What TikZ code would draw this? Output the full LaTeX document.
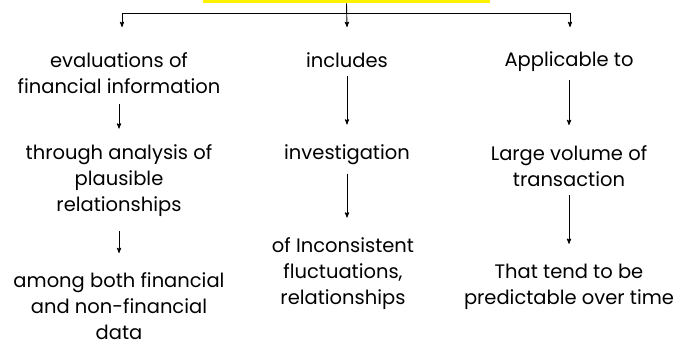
\documentclass[tikz,border=0pt]{standalone}
\usepackage{fontspec}
\setmainfont{Poppins}
\usepackage{tikz}
\usetikzlibrary{arrows}

\begin{document}
\begin{tikzpicture}[x=1pt,y=-1pt,->,>=stealth',line width=0.9pt]
    \tikzset{every node/.style={align=center,inner sep=0pt,font=\fontsize{19.5}{26}\selectfont}}
    \useasboundingbox (0,0) rectangle (686,346);
    \node[fill=yellow,minimum width=287pt,minimum height=20pt] (top) at (346.5,-7) {};
    % first column
    \node (a1) at (119,73) {evaluations of\\financial information};
    \node (a2) [below of=a1,node distance=108pt] {through analysis of\\plausible\\relationships};
    \node (a3) [below of=a2,node distance=125pt] {among both financial\\and non-financial\\data};
    % second column
    \node (b1) at (347,60) {includes};
    \node (b2) [below of=b1,node distance=95pt] {investigation};
    \node (b3) [below of=b2,node distance=119pt,xshift=-4pt] {of Inconsistent\\fluctuations,\\relationships};
    % third column
    \node (c1) at (569,62) {Applicable to};
    \node (c2) [below of=c1,node distance=104pt] {Large volume of\\transaction};
    \node (c3) [below of=c2,node distance=121pt] {That tend to be\\predictable over time};
    \coordinate (bus) at (347,13);
    \coordinate (t1) at (122,27);
    \coordinate (t2) at (347,27);
    \coordinate (t3) at (570,27);
    \draw (top.south) -- (t2);
    \draw (bus) -| (t1);
    \draw (bus) -| (t3);
    \draw[shorten <=10pt,shorten >=16pt] (a1) -- (a2);
    \draw[shorten <=14pt,shorten >=19pt] (a2) -- (a3);
    \draw[shorten <=8pt,shorten >=20pt] (b1) -- (b2);
    \draw[shorten <=8pt,shorten >=20pt] (b2) -- (b3.north -| b2);
    \draw[shorten <=8pt,shorten >=20pt] (c1) -- (c2);
    \draw[shorten <=8pt,shorten >=20pt] (c2) -- (c3);
\end{tikzpicture}
\end{document}
